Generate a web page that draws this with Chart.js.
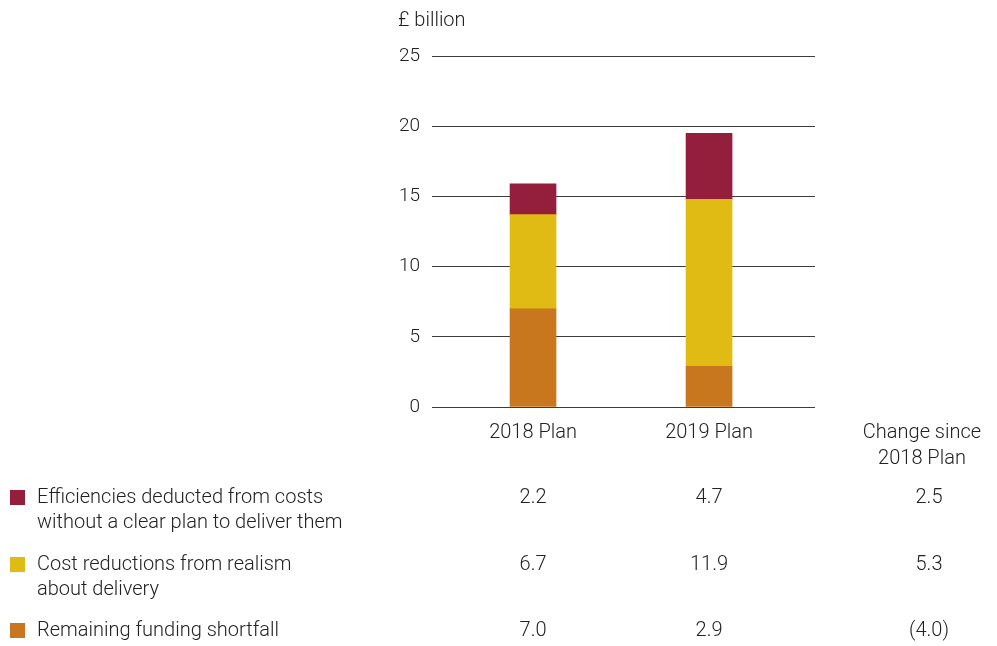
<!DOCTYPE html>
<html>
<head>
<meta charset="utf-8">
<script src="https://cdn.jsdelivr.net/npm/chart.js@4"></script>
<style>
  body { margin: 0; background: #fff; }
  #wrap { width: 997px; height: 646px; position: relative; }
</style>
</head>
<body>
<div id="wrap"><canvas id="planChart"></canvas></div>
<script>
const categories = ["2018 Plan", "2019 Plan"];
const efficiencies = [2.2, 4.7];
const costReductions = [6.7, 11.9];
const shortfall = [7.0, 2.9];
const changeLabels = ["2.5", "5.3", "(4.0)"];
const yTicks = [0, 5, 10, 15, 20, 25];

const FONT = "Roboto, 'Liberation Sans', sans-serif";
const TEXT = "#222";

// table rows, top to bottom
const rows = [
  { lines: ["Efficiencies deducted from costs", "without a clear plan to deliver them"], values: efficiencies, color: "#941f3d" },
  { lines: ["Cost reductions from realism", "about delivery"], values: costReductions, color: "#e0bb14" },
  { lines: ["Remaining funding shortfall"], values: shortfall, color: "#c8771e" }
];

const toPoints = arr => arr.map((v, i) => ({ x: i, y: v }));

const tablePlugin = {
  id: "table",
  afterDraw(chart) {
    const ctx = chart.ctx;
    const xs = chart.scales.x;
    ctx.save();
    ctx.fillStyle = TEXT;
    ctx.font = "300 20px " + FONT;
    ctx.textBaseline = "middle";

    ctx.textAlign = "left";
    ctx.fillText("£ billion", 398, 21);

    ctx.textAlign = "center";
    categories.forEach((c, i) => ctx.fillText(c, xs.getPixelForValue(i), 433));
    ctx.fillText("Change since", 922, 433);
    ctx.fillText("2018 Plan", 922, 459);

    const rowY = [498, 565, 631];
    rows.forEach((r, k) => {
      const y = rowY[k];
      ctx.fillStyle = r.color;
      ctx.fillRect(10, y - 8, 15, 15);
      ctx.fillStyle = TEXT;
      ctx.textAlign = "left";
      r.lines.forEach((ln, j) => ctx.fillText(ln, 37, y + j * 25));
      ctx.textAlign = "center";
      r.values.forEach((v, i) => ctx.fillText(v.toFixed(1), xs.getPixelForValue(i), y));
      ctx.fillText(changeLabels[k], 929, y);
    });
    ctx.restore();
  }
};

new Chart(document.getElementById("planChart"), {
  type: "bar",
  data: {
    datasets: [
      { label: "Remaining funding shortfall", data: toPoints(shortfall), backgroundColor: "#c8771e" },
      { label: "Cost reductions from realism about delivery", data: toPoints(costReductions), backgroundColor: "#e0bb14" },
      { label: "Efficiencies deducted from costs without a clear plan to deliver them", data: toPoints(efficiencies), backgroundColor: "#941f3d" }
    ]
  },
  options: {
    responsive: true,
    maintainAspectRatio: false,
    animation: false,
    layout: { padding: { top: 56, right: 182, bottom: 239, left: 0 } },
    datasets: { bar: { barThickness: 46, borderWidth: 0 } },
    plugins: { legend: { display: false }, tooltip: { enabled: false } },
    scales: {
      x: {
        type: "linear",
        stacked: true,
        offset: false,
        min: -0.574,
        max: 1.602,
        display: false
      },
      y: {
        stacked: true,
        min: 0,
        max: 25,
        afterFit(scale) { scale.width = 432; },
        afterBuildTicks(scale) { scale.ticks = yTicks.map(v => ({ value: v })); },
        border: { display: false },
        grid: { drawTicks: false, color: "#3c3c3c", lineWidth: 1 },
        ticks: {
          padding: 12,
          color: TEXT,
          font: { family: FONT, size: 19, weight: 300 }
        }
      }
    }
  },
  plugins: [tablePlugin]
});
</script>
</body>
</html>
